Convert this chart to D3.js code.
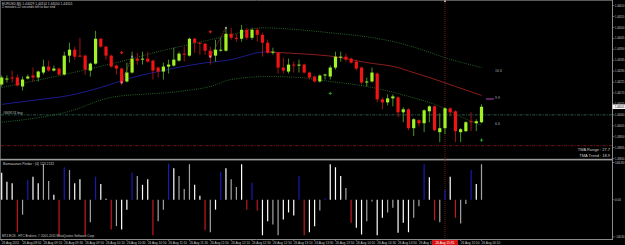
<!DOCTYPE html>
<html><head><meta charset="utf-8">
<script src="https://cdn.jsdelivr.net/npm/d3@7"></script>
<style>html,body{margin:0;padding:0;background:#000;overflow:hidden}svg{display:block}</style>
</head><body><svg id="c" width="625" height="245"></svg>
<script>
// ---------- DATA ----------
const opens = [1.44213,1.44238,1.44248,1.44248,1.44203,1.44243,1.44258,1.44248,1.44273,1.44303,
1.44283,1.44293,1.44263,1.44358,1.44388,1.44358,1.44358,1.44283,1.44318,1.44443,
1.44403,1.44358,1.44308,1.44293,1.44228,1.44273,1.44343,1.44338,1.44343,1.44333,
1.44298,1.44278,1.44303,1.44308,1.44333,1.44368,1.44358,1.44443,1.44423,1.44418,
1.44383,1.44358,1.44383,1.44383,1.44468,1.44448,1.44443,1.44488,1.44448,1.44488,
1.44463,1.44423,1.44373,1.44373,1.44298,1.44278,1.44313,1.44308,1.44313,1.44273,
1.44253,1.44228,1.44258,1.44253,1.44298,1.44348,1.44353,1.44343,1.44328,1.44298,
1.44223,1.44228,1.44268,1.44138,1.44123,1.44143,1.44148,1.44073,1.44088,1.43993,
1.44033,1.44018,1.44078,1.44103,1.43973,1.43993,1.44093,1.44078,1.43973,1.43978,
1.44028,1.44018,1.44023];
const highs = [1.44258,1.44258,1.44283,1.44263,1.44253,1.44263,1.44298,1.44283,1.44338,1.44333,
1.44308,1.44298,1.44378,1.44423,1.44403,1.44448,1.44363,1.44323,1.44483,1.44448,
1.44408,1.44363,1.44313,1.44298,1.44323,1.44378,1.44373,1.44378,1.44378,1.44338,
1.44303,1.44323,1.44338,1.44398,1.44378,1.44403,1.44448,1.44448,1.44428,1.44423,
1.44403,1.44438,1.44448,1.44498,1.44498,1.44468,1.44513,1.44498,1.44498,1.44498,
1.44473,1.44438,1.44398,1.44378,1.44348,1.44343,1.44328,1.44338,1.44318,1.44278,
1.44258,1.44263,1.44268,1.44308,1.44378,1.44378,1.44368,1.44348,1.44338,1.44303,
1.44248,1.44298,1.44273,1.44148,1.44163,1.44163,1.44153,1.44098,1.44093,1.44043,
1.44038,1.44088,1.44108,1.44108,1.44068,1.44098,1.44098,1.44083,1.43993,1.44028,
1.44073,1.44038,1.44113];
const lows = [1.44203,1.44223,1.44223,1.44203,1.44183,1.44238,1.44228,1.44228,1.44263,1.44278,
1.44278,1.44258,1.44258,1.44323,1.44338,1.44353,1.44263,1.44253,1.44313,1.44398,
1.44338,1.44298,1.44263,1.44208,1.44223,1.44268,1.44313,1.44313,1.44323,1.44238,
1.44248,1.44238,1.44268,1.44303,1.44328,1.44328,1.44353,1.44373,1.44363,1.44363,
1.44313,1.44328,1.44378,1.44378,1.44438,1.44428,1.44428,1.44438,1.44438,1.44428,
1.44353,1.44368,1.44363,1.44268,1.44268,1.44268,1.44273,1.44273,1.44268,1.44238,
1.44223,1.44223,1.44238,1.44238,1.44288,1.44328,1.44328,1.44318,1.44283,1.44213,
1.44203,1.44223,1.44123,1.44088,1.44108,1.44103,1.44048,1.44023,1.43983,1.43953,
1.44003,1.43973,1.44023,1.43978,1.43923,1.43963,1.44053,1.43923,1.43923,1.43973,
1.43978,1.43978,1.44018];
const closes = [1.44248,1.44243,1.44243,1.44208,1.44238,1.44253,1.44248,1.44278,1.44303,1.44283,
1.44293,1.44263,1.44358,1.44388,1.44353,1.44353,1.44288,1.44318,1.44443,1.44403,
1.44358,1.44303,1.44293,1.44223,1.44273,1.44343,1.44333,1.44343,1.44328,1.44283,
1.44278,1.44303,1.44313,1.44338,1.44368,1.44363,1.44443,1.44423,1.44418,1.44383,
1.44353,1.44388,1.44388,1.44468,1.44448,1.44443,1.44488,1.44448,1.44488,1.44463,
1.44423,1.44373,1.44378,1.44298,1.44283,1.44313,1.44308,1.44313,1.44273,1.44248,
1.44228,1.44258,1.44263,1.44298,1.44353,1.44353,1.44338,1.44323,1.44293,1.44223,
1.44228,1.44273,1.44138,1.44123,1.44143,1.44153,1.44073,1.44088,1.43993,1.44038,
1.44018,1.44083,1.44103,1.43983,1.43993,1.44093,1.44073,1.43978,1.43988,1.44023,
1.44023,1.44028,1.44101];

// TMA centre line (bar index, price): rising part blue, falling part red
const tmaUpBars   = [0,6,13,19,25,30,38,44,50,51];
const tmaUpVals   = [1.44113,1.44133,1.44158,1.44198,1.44248,1.44278,1.44318,1.44338,1.44376,1.44377];
const tmaDownBars = [51,57,63,70,76,78,82,87,92];
const tmaDownVals = [1.44377,1.44368,1.44356,1.44323,1.44298,1.44281,1.44248,1.44203,1.44158];
// TMA bands
const bandUpBars  = [0,12,25,30,38,44,50,57,63,70,76,80,85,92];
const bandUpVals  = [1.44198,1.44263,1.44343,1.44378,1.44426,1.44463,1.44498,1.44488,1.44473,1.44453,1.44423,1.44393,1.44348,1.44298];
const bandLoBars  = [0,13,21,34,40,44,51,57,63,70,78,83,90,92];
const bandLoVals  = [1.44023,1.44078,1.44148,1.44178,1.44203,1.44238,1.44253,1.44248,1.44228,1.44203,1.44153,1.44113,1.44028,1.44008];

// signal crosses
const sellBars = [23,40], sellVals = [1.44373,1.44478];
const buyBars  = [63,92], buyVals  = [1.44168,1.43933];
// trade history segments [bar, price]
const tradeFrom = [[23,1.44223],[40,1.44353]];
const tradeTo   = [[25,1.44353],[43,1.44498]];

const orderBuyPrice = 1.44060, orderStopPrice = 1.43905;
const lastPrice = 1.44101;

// histogram (sub window)
const histVals = [106,71,65,-128,-59,78,91,65,140,74,
20,-140,128,117,65,81,-140,-89,91,62,
4,-117,-104,-117,-39,106,94,59,81,-140,
-85,-39,143,124,94,42,140,59,16,-120,
-128,-39,110,124,81,50,140,-39,67,-42,
-140,-85,-98,-140,-78,-50,-62,94,-140,-128,
-104,-42,7,140,128,94,46,-91,-110,-137,
-85,-7,-140,-71,-50,-32,-130,-91,-128,-71,
-26,140,89,-81,-89,39,91,-71,-94,-17,
117,62,140];
const histKinds = ["W","W","W","R","G","B","W","W","G","G",
"W","R","B","G","W","W","R","G","B","W",
"W","R","G","W","W","B","G","W","W","R",
"G","G","B","W","G","G","G","W","W","R",
"G","W","B","W","G","G","W","R","B","R",
"W","W","G","G","W","W","W","B","R","W",
"W","G","B","W","W","W","G","R","W","W",
"G","G","W","W","G","G","W","W","W","G",
"G","B","W","R","G","B","W","R","G","G",
"B","W","G"];

// tick labels
const priceTicks = [1.44610,1.44555,1.44500,1.44445,1.44390,1.44335,1.44280,1.44225,1.44170,1.44115,1.44060,1.44005,1.43950,1.43895,1.43840];
const subTicks = [146.80,0.00,-146.80];
const timeTickBars = [0,4,8,12,16,20,24,28,32,36,40,44,48,52,56,60,64,68,72,76,80,84,88,92];
const timeTickLabels = ["26 Aug 2011","26 Aug 08:50","26 Aug 09:10","26 Aug 09:30","26 Aug 09:50","26 Aug 10:10",
"26 Aug 10:30","26 Aug 10:50","26 Aug 11:10","26 Aug 11:30","26 Aug 11:50","26 Aug 12:10","26 Aug 12:30",
"26 Aug 12:50","26 Aug 13:10","26 Aug 13:30","26 Aug 13:50","26 Aug 14:10","26 Aug 14:30","26 Aug 14:50",
"26 Aug 15:10","26 Aug 15:30","26 Aug 15:50","26 Aug 16:10"];
const cursorBar = 85, cursorLabel = "26 Aug 15:35";
const bandLabels = ["16.6","9.9","6.6"];
const bandLabelVals = [1.44283,1.44148,1.44013];

// ---------- DRAW ----------
const svg = d3.select("#c");
const FONT = "'Liberation Sans', Arial, sans-serif";
svg.append("rect").attr("width",625).attr("height",245).attr("fill","#000");

const x  = d3.scaleLinear().domain([0,92]).range([1.7,481.5]);
const y  = d3.scaleLinear().domain([1.43838,1.44638]).range([159,0]);
const yh = d3.scaleLinear().domain([-146.8,146.8]).range([237,162.5]);

// frames
const g = svg.append("g");
g.append("line").attr("x1",0).attr("x2",612).attr("y1",0.5).attr("y2",0.5).attr("stroke","#5a5a5a");
g.append("line").attr("x1",0.5).attr("x2",0.5).attr("y1",0).attr("y2",239).attr("stroke","#5a5a5a");
g.append("line").attr("x1",612.5).attr("x2",612.5).attr("y1",0).attr("y2",240).attr("stroke","#8a8a8a");
g.append("rect").attr("x",0).attr("y",158.8).attr("width",612.5).attr("height",1.6).attr("fill","#9a9a9a");
g.append("line").attr("x1",0).attr("x2",612.5).attr("y1",239.5).attr("y2",239.5).attr("stroke","#8a8a8a");

// order lines
g.append("line").attr("x1",1).attr("x2",612).attr("y1",y(orderBuyPrice)).attr("y2",y(orderBuyPrice))
 .attr("stroke","#2f6f60").attr("stroke-width",0.8).attr("stroke-dasharray","3,1.2,1,1.2");
g.append("line").attr("x1",1).attr("x2",612).attr("y1",y(orderStopPrice)).attr("y2",y(orderStopPrice))
 .attr("stroke","#8a1c1c").attr("stroke-width",0.8).attr("stroke-dasharray","3,1.2,1,1.2");
g.append("text").attr("x",3).attr("y",y(orderBuyPrice)-1.2).text("#849574 buy")
 .attr("font-family",FONT).attr("font-size",3.4).attr("fill","#bdbdbd");

// vertical cursor line
g.append("line").attr("x1",x(cursorBar)).attr("x2",x(cursorBar)).attr("y1",1).attr("y2",239)
 .attr("stroke","#a02525").attr("stroke-width",0.7).attr("stroke-dasharray","1,1");
g.append("rect").attr("x",x(cursorBar)-0.8).attr("y",0.5).attr("width",1.6).attr("height",1.6).attr("fill","#e8c8c8");

// bands and TMA
const line = (bars, vals) => d3.line().x((d,i)=>x(bars[i])).y(d=>y(d)).curve(d3.curveMonotoneX)(vals);
g.append("path").attr("d",line(bandUpBars,bandUpVals)).attr("fill","none").attr("stroke","#2f7a2f")
 .attr("stroke-width",0.9).attr("stroke-dasharray","0.9,1.3");
g.append("path").attr("d",line(bandLoBars,bandLoVals)).attr("fill","none").attr("stroke","#2f7a2f")
 .attr("stroke-width",0.9).attr("stroke-dasharray","0.9,1.3");
g.append("path").attr("d",line(tmaUpBars,tmaUpVals)).attr("fill","none").attr("stroke","#1c1c8c").attr("stroke-width",1);
g.append("path").attr("d",line(tmaDownBars,tmaDownVals)).attr("fill","none").attr("stroke","#8c1c1c").attr("stroke-width",1);

// trade history lines
tradeFrom.forEach((f,i)=>{
  const t = tradeTo[i];
  g.append("line").attr("x1",x(f[0])).attr("y1",y(f[1])).attr("x2",x(t[0])).attr("y2",y(t[1]))
   .attr("stroke","#c84a4a").attr("stroke-width",0.7).attr("stroke-dasharray","1.2,0.8");
});

// candles
const candles = g.append("g");
opens.forEach((o,i)=>{
  const c = closes[i], up = c >= o;
  const col = up ? "#a2f224" : "#f01414";
  const wick = up ? "#4ea32a" : "#b01616";
  candles.append("line").attr("x1",x(i)).attr("x2",x(i)).attr("y1",y(highs[i])).attr("y2",y(lows[i]))
   .attr("stroke",wick).attr("stroke-width",0.9);
  const top = y(Math.max(o,c)), bot = y(Math.min(o,c));
  candles.append("rect").attr("x",x(i)-1.6).attr("width",3.2).attr("y",top).attr("height",Math.max(1,bot-top)).attr("fill",col);
});
// trade markers
tradeFrom.forEach(f=>{
  g.append("rect").attr("x",x(f[0])-1).attr("y",y(f[1])-1).attr("width",2).attr("height",2).attr("fill","#e08a9a");
});
tradeTo.forEach(t=>{
  g.append("rect").attr("x",x(t[0])-1).attr("y",y(t[1])-1).attr("width",2).attr("height",2).attr("fill","#9a9a9a");
});

// crosses
const cross = (cx,cy,col)=>{
  g.append("line").attr("x1",cx-1.6).attr("x2",cx+1.6).attr("y1",cy).attr("y2",cy).attr("stroke",col).attr("stroke-width",1);
  g.append("line").attr("x1",cx).attr("x2",cx).attr("y1",cy-1.6).attr("y2",cy+1.6).attr("stroke",col).attr("stroke-width",1);
};
sellBars.forEach((b,i)=>cross(x(b),y(sellVals[i]),"#e01e1e"));
buyBars.forEach((b,i)=>cross(x(b),y(buyVals[i]),"#2e9a2e"));

// band value labels
bandLabels.forEach((t,i)=>{
  g.append("text").attr("x",495).attr("y",y(bandLabelVals[i])+1.2).text(t)
   .attr("font-family",FONT).attr("font-size",3.6).attr("fill","#a8a8a8");
});
g.append("line").attr("x1",486).attr("x2",494).attr("y1",y(bandLabelVals[1])+1.6).attr("y2",y(bandLabelVals[1])+1.6)
 .attr("stroke","#9a3a9a").attr("stroke-width",1.2);

// top-left title
g.append("text").attr("x",2).attr("y",4.6).text("EURUSD,M5  1.44029 1.44114 1.44010 1.44101")
 .attr("font-family",FONT).attr("font-size",3.3).attr("fill","#d0d0d0");
g.append("text").attr("x",2).attr("y",8).text("2 minutes 22 seconds left to bar end")
 .attr("font-family",FONT).attr("font-size",3.3).attr("fill","#d0d0d0");

// TMA info
g.append("text").attr("x",610).attr("y",150.6).attr("text-anchor","end").text("TMA Range : 27.7")
 .attr("font-family",FONT).attr("font-size",4).attr("fill","#cfcfcf");
g.append("text").attr("x",610).attr("y",156.6).attr("text-anchor","end").text("TMA Trend : 18.9")
 .attr("font-family",FONT).attr("font-size",4).attr("fill","#cfcfcf");

// price axis
const pa = g.append("g");
const axisText = (sel)=>sel.attr("font-family",FONT).attr("font-size",3.0).attr("textLength",9.4).attr("lengthAdjust","spacingAndGlyphs");
priceTicks.forEach(p=>{
  const yy = y(p);
  pa.append("line").attr("x1",612.5).attr("x2",614.5).attr("y1",yy).attr("y2",yy).attr("stroke","#a0a0a0").attr("stroke-width",0.6);
  pa.append("text").attr("x",615).attr("y",yy+1.1).text(d3.format(".5f")(p)).call(axisText).attr("fill","#c8c8c8");
});
pa.append("rect").attr("x",612.5).attr("y",y(lastPrice)-2.3).attr("width",12.5).attr("height",4.6).attr("fill","#f4f4f4");
pa.append("text").attr("x",615).attr("y",y(lastPrice)+1.1).text(d3.format(".5f")(lastPrice)).call(axisText).attr("fill","#000");

// sub window histogram
const colMap = {W:"#ffffff",G:"#a4a4a4",B:"#1a1ab4",R:"#c41a1a"};
histVals.forEach((v,i)=>{
  g.append("line").attr("x1",x(i)).attr("x2",x(i)).attr("y1",yh(0)).attr("y2",yh(v))
   .attr("stroke",colMap[histKinds[i]]).attr("stroke-width",1.2);
});
subTicks.forEach(v=>{
  const yy = yh(v);
  g.append("line").attr("x1",612.5).attr("x2",614.5).attr("y1",yy).attr("y2",yy).attr("stroke","#a0a0a0").attr("stroke-width",0.6);
  const t = g.append("text").attr("x",615).attr("y",yy+1.1).text(d3.format(".2f")(v))
   .attr("font-family",FONT).attr("font-size",3.0).attr("fill","#c8c8c8");
  if (Math.abs(v) > 100) t.attr("textLength",9.4).attr("lengthAdjust","spacingAndGlyphs");
});
g.append("text").attr("x",3).attr("y",164.8).text("Bamaaanan Pindar : (4) 123.2132")
 .attr("font-family",FONT).attr("font-size",3.4).attr("fill","#c8c8c8");
g.append("text").attr("x",2).attr("y",237.4).text("MT4 ECN - HTC Brokers, \u00a9 2001-2011 MetaQuotes Software Corp.")
 .attr("font-family",FONT).attr("font-size",3.1).attr("fill","#c8c8c8");

// time axis (labels under the cursor box are clipped by it)
const boxX0 = x(cursorBar)-13, boxX1 = x(cursorBar)+13;
svg.append("defs").append("clipPath").attr("id","tclip").append("rect")
 .attr("x",0).attr("y",238).attr("width",boxX0).attr("height",8);
timeTickBars.forEach((b,i)=>{
  const xx = x(b);
  g.append("line").attr("x1",xx).attr("x2",xx).attr("y1",239.5).attr("y2",241).attr("stroke","#a0a0a0").attr("stroke-width",0.6);
  if (xx > boxX0 && xx < boxX1) return; // fully hidden behind the cursor label
  const t = g.append("text").attr("x",xx).attr("y",243.8).text(timeTickLabels[i])
   .attr("font-family",FONT).attr("font-size",3.2).attr("fill","#c8c8c8");
  if (xx < boxX0 && xx + 18 > boxX0) t.attr("clip-path","url(#tclip)");
});
g.append("rect").attr("x",boxX0).attr("y",240).attr("width",26).attr("height",5).attr("fill","#d41414");
g.append("text").attr("x",x(cursorBar)).attr("y",243.8).attr("text-anchor","middle").text(cursorLabel)
 .attr("font-family",FONT).attr("font-size",3.2).attr("fill","#ffffff");
</script></body></html>
